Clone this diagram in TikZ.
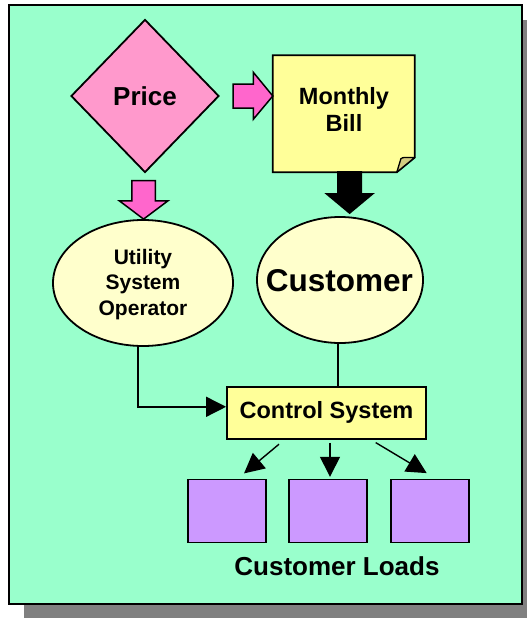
\documentclass[tikz,border=0pt]{standalone}
\usepackage{fontspec}
\setmainfont{Liberation Sans}
\usetikzlibrary{shapes.geometric,arrows.meta,calc}
\definecolor{mint}{HTML}{99FFCC}
\definecolor{pricepink}{HTML}{FF99CC}
\definecolor{arrowpink}{HTML}{FF66CC}
\definecolor{billyellow}{HTML}{FFFF99}
\definecolor{cream}{HTML}{FFFFCC}
\definecolor{loadpurple}{HTML}{CC99FF}
\definecolor{flap}{HTML}{D4CC80}
\definecolor{shadowgray}{HTML}{808080}

\begin{document}
\begin{tikzpicture}[x=1pt,y=-1pt,
  outline/.style={draw=black, line width=1.8pt},
  blockarrow/.style={outline, line width=1.5pt, line join=miter},
  wire/.style={draw=black, line width=1.4pt},
  conn/.style={wire, -{Triangle[length=20pt,width=20pt]}},
  cream ellipse/.style={ellipse, outline, fill=cream, inner sep=0pt},
  loadbox/.style={rectangle, outline, fill=loadpurple, minimum width=78pt, minimum height=63pt, inner sep=0pt},
  bold/.style={font=\bfseries\fontsize{#1}{#1}\selectfont, inner sep=0pt, align=center}
]
\useasboundingbox (0,0) rectangle (527,618);

% frame with drop shadow
\fill[shadowgray] (24,20) rectangle (527,618);
\draw[fill=mint, line width=2.6pt] (9,5) rectangle (522,604);

% price diamond
\node[diamond, outline, fill=pricepink, minimum width=148pt, minimum height=153pt,
      inner sep=0pt, bold=26] (price) at (145,96) {Price};

% monthly bill sheet with curled corner
\node[rectangle, minimum width=141.5pt, minimum height=116.5pt, inner sep=0pt] (bill) at (343.75,113.75) {};
\draw[outline, fill=billyellow, line join=miter]
  (bill.north west) -- (bill.north east) -- ($(bill.south east)+(0,-14.7)$)
  -- ($(bill.south east)+(-17.9,0)$) -- (bill.south west) -- cycle;
\draw[draw=black, line width=1.3pt, fill=flap, line join=round]
  ($(bill.south east)+(-17.9,0)$) -- ($(bill.south east)+(-13.8,-13.5)$)
  .. controls ($(bill.south east)+(-12.5,-15.5)$) and ($(bill.south east)+(-6,-14.5)$) ..
  ($(bill.south east)+(0,-14.7)$) -- cycle;
\node[font=\bfseries\fontsize{23.5}{26.7}\selectfont, inner sep=0pt, align=center]
  (billtext) at (344,109.6) {Monthly\\Bill};

% utility system operator and customer
\node[cream ellipse, minimum width=180pt, minimum height=126pt] (uso) at (143,283) {};
\node[font=\bfseries\fontsize{21}{25.5}\selectfont, inner sep=0pt, align=center]
  (usotext) at (143,284.5) {Utility\\System\\Operator};
\node[cream ellipse, minimum width=166pt, minimum height=126pt] (cust) at (340,280) {};
\node[bold=31.5] (custtext) at (339.5,281) {Customer};

% control system
\node[rectangle, outline, fill=billyellow, minimum width=199pt, minimum height=51.6pt,
      inner sep=0pt, bold=23.5] (ctl) at (326.5,412.8) {Control System};

% customer loads
\node[loadbox] (load1) at (227.2,511) {};
\node[loadbox] (load2) at (328,511) {};
\node[loadbox] (load3) at (430,511) {};
\node[bold=26] (loadtext) at (337,566) {Customer Loads};

% block arrows
\coordinate (tipR) at (bill.west |- price.center);
\draw[blockarrow, fill=arrowpink] (tipR) -- ++(-19.5,-23.7) -- ++(0,11.7) -- ++(-20.2,0)
  -- ++(0,24.2) -- ++(20.2,0) -- ++(0,11.1) -- cycle;
\coordinate (tipD) at ($(uso.north)+(0.6,0)$);
\draw[blockarrow, fill=arrowpink] (tipD) -- ++(-24.3,-18.3) -- ++(12.5,0) -- ++(0,-20.2)
  -- ++(23.5,0) -- ++(0,20.2) -- ++(12.7,0) -- cycle;
\coordinate (tipB) at ($(cust.north)+(9.6,-2)$);
\fill[black] (tipB) -- ++(-25.2,-21) -- ++(12.7,0) -- ++(0,-22)
  -- ++(25,0) -- ++(0,22) -- ++(12.7,0) -- cycle;

% signal lines
\draw[conn] ([xshift=-5pt]uso.south) |- ([yshift=6pt]ctl.west);
\draw[wire] ([xshift=-2pt]cust.south) -- ([xshift=-2pt]cust.south |- ctl.north);
\draw[conn] ($(ctl.south)+(-47.5,4.7)$) -- ($(load1.north)+(16.8,-5.2)$);
\draw[conn] ($(ctl.south)+(3.5,3.4)$) -- ($(load2.north)+(2,-1.8)$);
\draw[conn] ($(ctl.south)+(49.2,3.1)$) -- ($(load3.north)+(-3.3,-5.5)$);
\end{tikzpicture}
\end{document}
